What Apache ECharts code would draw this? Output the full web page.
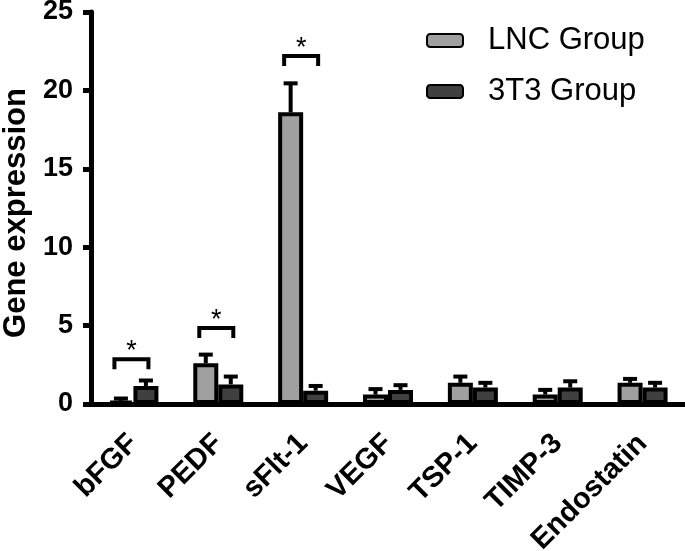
<!DOCTYPE html>
<html>
<head>
<meta charset="utf-8">
<script src="https://cdn.jsdelivr.net/npm/echarts@6/dist/echarts.min.js"></script>
<style>html,body{margin:0;padding:0;background:#fff;}#c{width:685px;height:551px;}</style>
</head>
<body>
<div id="c"></div>
<script>
var categories = ['bFGF', 'PEDF', 'sFlt-1', 'VEGF', 'TSP-1', 'TIMP-3', 'Endostatin'];
var lncValues = [0.2, 2.6, 18.6, 0.6, 1.35, 0.6, 1.35];
var lncErrors = [0.15, 0.55, 1.85, 0.35, 0.4, 0.3, 0.25];
var t3Values = [1.15, 1.25, 0.85, 0.9, 1.05, 1.05, 1.05];
var t3Errors = [0.35, 0.5, 0.3, 0.3, 0.3, 0.4, 0.3];
var sigCategories = [0, 1, 2];
var sigHeights = [2.85, 4.85, 22.2];
var yTicks = [0, 5, 10, 15, 20, 25];

var BAR_W = 25;
var FONT = 'Liberation Sans, Arial, sans-serif';

function errData(vals, errs) {
  return vals.map(function (v, i) { return [i, v, errs[i]]; });
}

function errRender(offset) {
  return function (params, api) {
    var i = api.value(0), v = api.value(1), e = api.value(2);
    var p0 = api.coord([i, v]);
    var p1 = api.coord([i, v + e]);
    var x = p0[0] + offset;
    return {
      type: 'group',
      children: [
        { type: 'line', shape: { x1: x, y1: p0[1], x2: x, y2: p1[1] }, style: { stroke: '#000', lineWidth: 4 } },
        { type: 'line', shape: { x1: x - 7, y1: p1[1], x2: x + 7, y2: p1[1] }, style: { stroke: '#000', lineWidth: 4 } }
      ]
    };
  };
}

var chart = echarts.init(document.getElementById('c'));
chart.setOption({
  animation: false,
  backgroundColor: '#fff',
  grid: { left: 91, right: 0, top: 12, bottom: 147, containLabel: false, outerBoundsMode: 'none' },
  legend: {
    orient: 'vertical',
    left: 421,
    top: 20,
    itemWidth: 36,
    itemHeight: 13,
    itemGap: 20,
    data: ['LNC Group', '3T3 Group'],
    textStyle: { fontFamily: FONT, fontSize: 31, color: '#000', padding: [0, 0, 0, 20] }
  },
  xAxis: {
    type: 'category',
    data: categories,
    axisLine: { lineStyle: { color: '#000', width: 5 } },
    axisTick: { alignWithLabel: true, length: 9, lineStyle: { color: '#000', width: 5 } },
    axisLabel: { rotate: 45, interval: 0, margin: 35, fontFamily: FONT, fontWeight: 'bold', fontSize: 29, color: '#000' },
    splitLine: { show: false }
  },
  yAxis: {
    type: 'value',
    min: 0,
    max: 25,
    interval: 5,
    axisLine: { show: true, lineStyle: { color: '#000', width: 5 } },
    axisTick: { show: true, length: 8, lineStyle: { color: '#000', width: 5 } },
    axisLabel: { margin: 18, fontFamily: FONT, fontWeight: 'bold', fontSize: 27, color: '#000',
      formatter: function (v) { return yTicks.indexOf(v) >= 0 ? String(v) : ''; } },
    splitLine: { show: false }
  },
  graphic: [{
    type: 'text',
    x: 16,
    y: 213,
    rotation: Math.PI / 2,
    style: { text: 'Gene expression', fontFamily: FONT, fontWeight: 'bold', fontSize: 31, fill: '#000', textAlign: 'center', textVerticalAlign: 'middle' }
  }],
  series: [
    {
      name: 'LNC Group', type: 'bar', data: lncValues, barWidth: BAR_W, barGap: '0%',
      itemStyle: { color: '#a0a0a0', borderColor: '#000', borderWidth: 4 }, z: 2
    },
    {
      name: '3T3 Group', type: 'bar', data: t3Values, barWidth: BAR_W, barGap: '0%',
      itemStyle: { color: '#404040', borderColor: '#000', borderWidth: 4 }, z: 2
    },
    {
      type: 'custom', data: errData(lncValues, lncErrors), renderItem: errRender(-BAR_W / 2),
      encode: { x: 0, y: 1 }, z: 3, silent: true
    },
    {
      type: 'custom', data: errData(t3Values, t3Errors), renderItem: errRender(BAR_W / 2),
      encode: { x: 0, y: 1 }, z: 3, silent: true
    },
    {
      type: 'custom',
      data: sigCategories.map(function (c, i) { return [c, sigHeights[i]]; }),
      encode: { x: 0, y: 1 }, z: 3, silent: true,
      renderItem: function (params, api) {
        var p = api.coord([api.value(0), api.value(1)]);
        var cx = p[0] - 2, y = p[1];
        return {
          type: 'group',
          children: [
            { type: 'polyline', shape: { points: [[cx - 17, y + 10], [cx - 17, y], [cx + 17, y], [cx + 17, y + 10]] },
              style: { stroke: '#000', lineWidth: 4, fill: null } },
            { type: 'text', x: cx, y: y - 21,
              style: { text: '*', fontFamily: FONT, fontSize: 27, fill: '#000', textAlign: 'center', textVerticalAlign: 'top' } }
          ]
        };
      }
    }
  ]
});
</script>
</body>
</html>
